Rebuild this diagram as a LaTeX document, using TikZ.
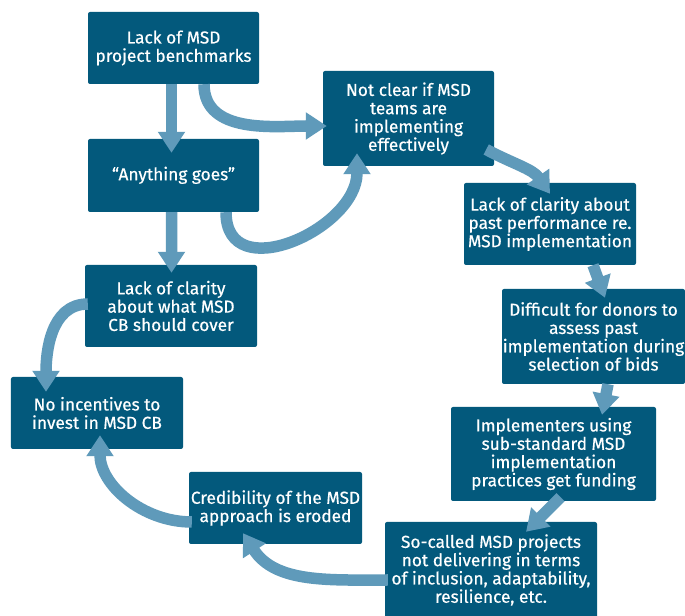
\documentclass[tikz,border=0pt]{standalone}
\usepackage{fontspec}
\setmainfont{Fira Sans}[FakeBold=0.5]
\usetikzlibrary{arrows.meta}
\definecolor{boxteal}{HTML}{03597C}
\definecolor{flowblue}{HTML}{5F9ABA}
\tikzset{
  box/.style={fill=boxteal, rounded corners=2bp, inner sep=0pt, text=white,
    align=center, font=\fontsize{17.3bp}{18.3bp}\selectfont},
  flow/.style={draw=flowblue, line width=11.5bp,
    -{Triangle[width=26bp,length=21bp]}},
}
\begin{document}
\begin{tikzpicture}[x=1bp,y=1bp]
\useasboundingbox[fill=white] (0,0) rectangle (685,616);

% problem boxes
\node[box, minimum width=171bp, minimum height=72bp] (A) at (173.5,568) {Lack of MSD\\project benchmarks};
\node[box, minimum width=171bp, minimum height=73bp] (B) at (173.5,440.5) {\raisebox{4bp}{``Anything goes''}};
\node[box, minimum width=171bp, minimum height=95bp] (C) at (408.5,497.5) {Not clear if MSD\\teams are\\implementing\\effectively};
\node[box, minimum width=172bp, minimum height=82bp] (D) at (550,392) {Lack of clarity about\\past performance re.\\MSD implementation};
\node[box, minimum width=183bp, minimum height=95bp] (E) at (593.5,279.5) {Difficult for donors to\\assess past\\implementation during\\selection of bids};
\node[box, minimum width=205bp, minimum height=94bp] (F) at (553.5,162) {Implementers using\\sub-standard MSD\\implementation\\practices get funding};
\node[box, minimum width=212bp, minimum height=96bp] (G) at (491,46) {So-called MSD projects\\not delivering in terms\\of inclusion, adaptability,\\resilience, etc.};
\node[box, minimum width=173bp, minimum height=72bp] (H) at (275.5,108) {Credibility of the MSD\\approach is eroded};
\node[box, minimum width=172bp, minimum height=72bp] (I) at (97,203) {No incentives to\\invest in MSD CB};
\node[box, minimum width=172bp, minimum height=82bp] (J) at (171,310) {Lack of clarity\\about what MSD\\CB should cover};

% causal links
\draw[flow] ([xshift=-2bp]A.south) -- ([xshift=-2bp,yshift=-14bp]B.north);
\draw[flow] ([xshift=30.5bp]A.south) to[out=-90,in=180] ([xshift=4bp,yshift=-7.5bp]C.west);
\draw[flow] ([xshift=52.5bp]B.south) to[out=-90,in=-90,looseness=1.35] ([xshift=-51.5bp,yshift=13bp]C.south);
\draw[flow] ([xshift=-8bp,yshift=-31bp]C.east) to[out=-28,in=125] ([xshift=0bp,yshift=-11bp]D.north);
\draw[flow] ([xshift=43bp]D.south) -- ([xshift=11.5bp,yshift=-9bp]E.north);
\draw[flow] ([xshift=14.5bp]E.south) -- ([xshift=48.5bp,yshift=-8bp]F.north);
\draw[flow] ([xshift=7bp,yshift=4bp]F.south) -- ([xshift=35bp,yshift=-10bp]G.north);
\draw[flow] ([xshift=3bp,yshift=-10bp]G.west) to[out=180,in=-57] ([xshift=-32.5bp,yshift=11bp]H.south);
\draw[flow] ([xshift=3bp,yshift=-14bp]H.west) to[out=180,in=-90] ([xshift=3bp,yshift=14bp]I.south);
\draw[flow] ([xshift=3bp,yshift=2bp]J.west) to[out=180,in=90] ([xshift=-51bp,yshift=-15bp]I.north);
\draw[flow] ([xshift=-2bp]B.south) -- ([xshift=0.5bp,yshift=-8bp]J.north);
\end{tikzpicture}
\end{document}
